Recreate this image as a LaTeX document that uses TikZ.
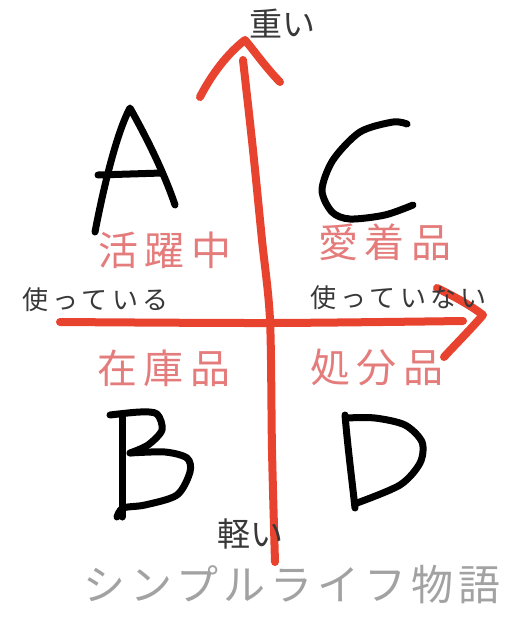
\documentclass[tikz,border=0pt]{standalone}
\usepackage{fontspec}
\newfontfamily\jpfont{Noto Sans CJK JP}
\newfontfamily\jppink[LetterSpace=16]{Noto Sans CJK JP}
\newfontfamily\jpsmall[LetterSpace=17]{Noto Sans CJK JP}
\newfontfamily\jpbrand[LetterSpace=12]{Noto Sans CJK JP}
\definecolor{axisred}{HTML}{E8432F}
\definecolor{quadpink}{HTML}{E57C7C}
\definecolor{labelgray}{HTML}{383838}
\definecolor{brandgray}{HTML}{A2A2A2}
\tikzset{
  axisline/.style={draw=axisred, line width=8pt, line cap=round, line join=round},
  letterstroke/.style={draw=black, line width=7pt, line cap=round, line join=round},
  quadtext/.style={text=quadpink, inner sep=0pt, anchor=west, font=\jppink\fontsize{40}{40}\selectfont},
  axistext/.style={text=labelgray, inner sep=0pt, anchor=west, font=\jpsmall\fontsize{26}{26}\selectfont},
  endtext/.style={text=labelgray, inner sep=0pt, anchor=west, font=\jpfont\fontsize{33}{33}\selectfont},
  brandtext/.style={text=brandgray, inner sep=0pt, anchor=west, font=\jpbrand\fontsize{42}{42}\selectfont}
}
\begin{document}
\begin{tikzpicture}[x=1pt,y=-1pt]
\fill[white] (0,0) rectangle (519,640);
\useasboundingbox (0,0) rectangle (519,640);

% axis end points
\coordinate (vtop) at (243,60);
\coordinate (vtip) at (245,40);
\coordinate (vbot) at (275,562);
\coordinate (hleft) at (60,322);
\coordinate (hright) at (463,321);
\coordinate (htip) at (483,315);

% vertical axis
\draw[axisline] plot[smooth] coordinates {(vtop) (253,150) (262,240) (270,320) (272,450) (vbot)};
\draw[axisline] (200,97) .. controls (215,68) and (232,50) .. (vtip) .. controls (255,52) and (268,70) .. (280,82);
% horizontal axis
\draw[axisline] plot[smooth] coordinates {(hleft) (270,323) (hright)};
\draw[axisline] (437,288) .. controls (455,297) and (470,305) .. (htip) .. controls (470,330) and (455,345) .. (444,357);

% letters
\draw[letterstroke] (95,232) .. controls (105,180) and (118,130) .. (130,108) .. controls (148,140) and (165,175) .. (175,205);
\draw[letterstroke] (98,175) -- (162,173);
\draw[letterstroke] plot[smooth] coordinates {(407,124) (393,122) (360,132) (333,160) (322,190) (332,212) (350,219) (385,215) (413,205)};
\draw[letterstroke] (122,417) -- (122,517);
\draw[letterstroke] plot[smooth] coordinates {(110,415) (140,412) (157,414) (162,430) (148,445) (130,453)};
\draw[letterstroke] plot[smooth] coordinates {(130,453) (165,452) (187,458) (190,472) (177,495) (145,505) (123,508) (117,517)};
\draw[letterstroke] (345,415) .. controls (348,450) and (352,480) .. (355,508);
\draw[letterstroke] plot[smooth] coordinates {(346,418) (375,418) (405,425) (422,442) (420,463) (400,485) (357,503)};

% quadrant labels
\node[quadtext] (katsuyaku) at (98,250) {活躍中};
\node[quadtext] (aichaku) at (318,242) {愛着品};
\node[quadtext] (zaiko) at (97,368) {在庫品};
\node[quadtext] (shobun) at (310,367) {処分品};

% axis labels
\node[axistext] (using) at (22,300) {使っている};
\node[axistext] (notusing) at (310,298) {使っていない};
\node[endtext] (heavy) at (249,24) {重い};
\node[endtext] (light) at (217,534) {軽い};

% brand
\node[brandtext] (brand) at (83,585) {シンプルライフ物語};
\end{tikzpicture}
\end{document}
